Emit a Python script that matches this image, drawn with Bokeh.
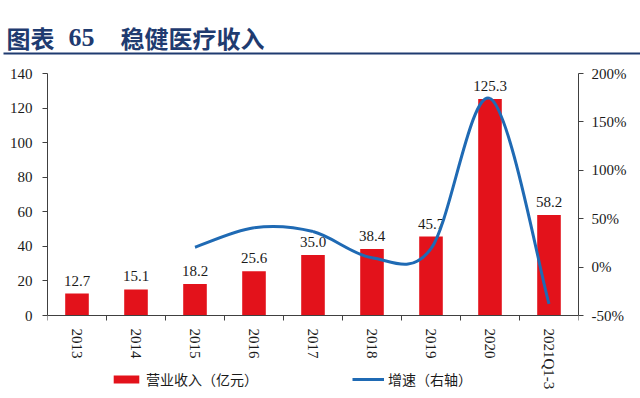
import math
from bokeh.plotting import figure
from bokeh.models import (Range1d, LinearAxis, FixedTicker, Legend, LegendItem,
                          PrintfTickFormatter, ColumnDataSource, Column)
from bokeh.embed import file_html
from bokeh.resources import INLINE
from bokeh.core.properties import value

# ---------------- data ----------------
categories = ["2013", "2014", "2015", "2016", "2017", "2018", "2019", "2020", "2021Q1-3"]
revenue = [12.7, 15.1, 18.2, 25.6, 35.0, 38.4, 45.7, 125.3, 58.2]
growth_categories = ["2015", "2016", "2017", "2018", "2019", "2020", "2021Q1-3"]
growth = [20.5, 40.7, 36.7, 9.7, 19.0, 174.2, -38.0]
revenue_ticks = [0, 20, 40, 60, 80, 100, 120, 140]
growth_ticks = [-50, 0, 50, 100, 150, 200]
title_parts = ["图表", "65", "稳健医疗收入"]
legend_labels = ["营业收入（亿元）", "增速（右轴）"]

RED = "#E3121B"
BLUE = "#1F6AB4"
NAVY = "#1F3B70"
AXIS = "#404040"
TXT = "#1a1a1a"
SERIF = "Liberation Serif"
CJK = "Noto Sans CJK SC"
FS = "15px"

W = 640
TITLE_H = 58
MAIN_H = 338

# ---------------- title strip ----------------
t = figure(width=W, height=TITLE_H, x_range=Range1d(0, W), y_range=Range1d(TITLE_H, 0),
           output_backend="svg", toolbar_location=None, min_border=0)
t.axis.visible = False
t.grid.visible = False
t.outline_line_color = None
t.text(x=[6], y=[36.5], text=[title_parts[0]], text_font=value(CJK), text_font_style="bold",
       text_font_size="24px", text_color=NAVY, text_baseline="middle")
t.text(x=[68], y=[36.5], text=[title_parts[1]], text_font=value(SERIF), text_font_style="bold",
       text_font_size="26px", text_color=NAVY, text_baseline="middle")
t.text(x=[120], y=[36.5], text=[title_parts[2]], text_font=value(CJK), text_font_style="bold",
       text_font_size="24px", text_color=NAVY, text_baseline="middle")
t.segment(x0=[3], y0=[53], x1=[W], y1=[53], line_color=NAVY, line_width=2)

# ---------------- main chart ----------------
# frame: top at 15px, value axis spans 242px, 81px kept below zero for
# category labels and legend
top_pad, axis_px, below_px = 15, 242, 81
n = len(categories)
xs = list(range(n))
ymax = revenue_ticks[-1]
ylo = -below_px / axis_px * (ymax - revenue_ticks[0])
gmin, gmax = growth_ticks[0], growth_ticks[-1]
glo = gmin - below_px / axis_px * (gmax - gmin)

p = figure(width=W, height=MAIN_H, x_range=Range1d(-0.5, n - 0.5), y_range=Range1d(ylo, ymax),
           output_backend="svg", toolbar_location=None,
           min_border_left=47, min_border_right=62, min_border_top=top_pad, min_border_bottom=0)
p.grid.visible = False
p.outline_line_color = None
p.background_fill_color = "white"

# bars
src = ColumnDataSource(dict(x=xs, top=revenue, lab=[f"{v:.1f}" for v in revenue]))
bars = p.vbar(x="x", top="top", bottom=0, width=0.4, source=src, fill_color=RED, line_color=None)
p.text(x="x", y="top", text="lab", source=src, text_align="center", text_baseline="bottom",
       y_offset=-8, text_font=value(SERIF), text_font_size=FS, text_color=TXT)

# growth line, smoothed (Catmull-Rom -> cubic Bezier, like a spreadsheet "smooth line")
p.extra_y_ranges = {"right": Range1d(glo, gmax)}
gx = [categories.index(c) for c in growth_categories]
gy = growth
m = len(gx)
x0, y0, x1, y1, cx0, cy0, cx1, cy1 = [], [], [], [], [], [], [], []
for i in range(m - 1):
    pa = max(i - 1, 0)
    pb = min(i + 2, m - 1)
    x0.append(gx[i]); y0.append(gy[i])
    x1.append(gx[i + 1]); y1.append(gy[i + 1])
    cx0.append(gx[i] + (gx[i + 1] - gx[pa]) / 6.0)
    cy0.append(gy[i] + (gy[i + 1] - gy[pa]) / 6.0)
    cx1.append(gx[i + 1] - (gx[pb] - gx[i]) / 6.0)
    cy1.append(gy[i + 1] - (gy[pb] - gy[i]) / 6.0)
bez = p.bezier(x0=x0, y0=y0, x1=x1, y1=y1, cx0=cx0, cy0=cy0, cx1=cx1, cy1=cy1,
               y_range_name="right", line_color=BLUE, line_width=3)
# single-point line (draws nothing) that carries the legend swatch for the curve
line_proxy = p.line(x=gx[:1], y=gy[:1], y_range_name="right", line_color=BLUE, line_width=3)

# left axis
la = p.yaxis[0]
la.ticker = FixedTicker(ticks=revenue_ticks)
la.bounds = (revenue_ticks[0], ymax)
la.major_tick_out = 5
la.major_tick_in = 0
la.minor_tick_line_color = None
la.major_label_standoff = 10
la.axis_line_color = AXIS
la.major_tick_line_color = AXIS
la.major_label_text_font = SERIF
la.major_label_text_font_size = FS
la.major_label_text_color = TXT

# right axis
ra = LinearAxis(y_range_name="right", ticker=FixedTicker(ticks=growth_ticks),
                formatter=PrintfTickFormatter(format="%d%%"), bounds=(gmin, gmax))
ra.major_tick_out = 5
ra.major_tick_in = 0
ra.minor_tick_line_color = None
ra.major_label_standoff = 8
ra.axis_line_color = AXIS
ra.major_tick_line_color = AXIS
ra.major_label_text_font = SERIF
ra.major_label_text_font_size = FS
ra.major_label_text_color = TXT
p.add_layout(ra, "right")

# bottom axis at value 0: labels at centres, tick marks at category boundaries
xa = p.xaxis[0]
xa.fixed_location = 0
xa.ticker = FixedTicker(ticks=xs, minor_ticks=[i - 0.5 for i in range(n + 1)])
xa.major_label_overrides = {i: c for i, c in enumerate(categories)}
xa.major_label_orientation = -math.pi / 2
xa.major_tick_line_color = None
xa.major_tick_in = 0
xa.major_tick_out = 0
xa.minor_tick_out = 5
xa.minor_tick_in = 0
xa.minor_tick_line_color = AXIS
xa.axis_line_color = AXIS
xa.major_label_standoff = 8
xa.major_label_text_font = SERIF
xa.major_label_text_font_size = FS
xa.major_label_text_color = TXT

# legend
legend = Legend(items=[LegendItem(label=legend_labels[0], renderers=[bars]),
                       LegendItem(label=legend_labels[1], renderers=[line_proxy])],
                location=(63, 7), orientation="horizontal",
                glyph_width=32, glyph_height=10, label_standoff=4, spacing=94,
                padding=0, margin=0, border_line_color=None, background_fill_alpha=0,
                label_text_font=CJK, label_text_font_size="14px", label_text_color=TXT)
p.add_layout(legend)

layout = Column(children=[Column(children=[t]), Column(children=[p])], spacing=0)
open("out.html", "w").write(file_html(layout, INLINE))
